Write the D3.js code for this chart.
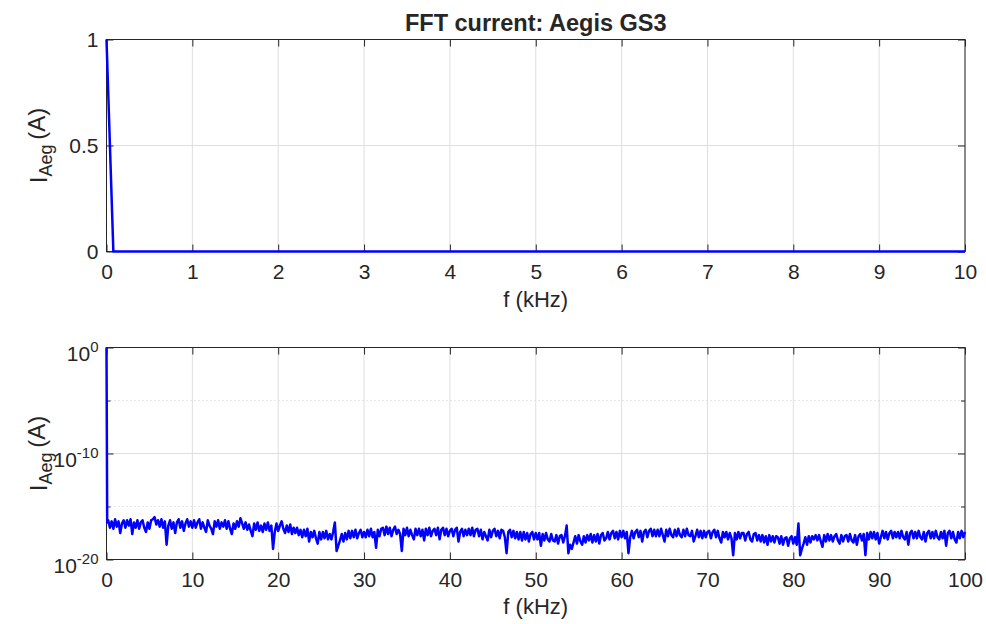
<!DOCTYPE html>
<html>
<head>
<meta charset="utf-8">
<script src="https://cdn.jsdelivr.net/npm/d3@7"></script>
<style>
  body { margin: 0; background: #fff; }
  text { font-family: "Liberation Sans", Arial, sans-serif; fill: #262626; }
</style>
</head>
<body>
<script>
// spectrum: DC bin, first bin, then bins every 0.2 kHz up to 100 kHz
var dcFreq = [0, 0.08];
var dcLogAmp = [0, -16.5];
var binStep = 0.2;
// log10 of |I| (A) for the bins 0.2 .. 100 kHz (one row = 2 kHz)
var noiseLogAmp = [
  -16.3,-17.0,-16.4,-17.1,-16.2,-16.9,-16.4,-17.5,-16.6,-16.3,
  -17.0,-16.3,-16.8,-16.2,-17.6,-16.5,-17.0,-16.3,-17.1,-16.5,
  -16.3,-17.0,-17.4,-16.5,-17.1,-16.3,-16.2,-16.0,-16.7,-16.3,
  -16.9,-16.2,-17.0,-16.4,-18.6,-16.8,-16.3,-17.1,-16.5,-17.5,
  -16.5,-16.2,-17.0,-16.4,-17.3,-16.6,-16.2,-16.9,-16.4,-17.0,
  -16.3,-17.0,-16.5,-16.2,-17.1,-16.5,-17.0,-17.4,-16.3,-16.8,
  -17.1,-17.6,-16.4,-16.9,-16.3,-17.1,-16.5,-16.9,-16.3,-17.1,
  -16.4,-17.1,-17.6,-16.6,-17.1,-16.4,-16.9,-16.1,-16.6,-17.1,
  -16.5,-17.2,-16.7,-17.3,-17.8,-16.6,-17.2,-16.5,-17.3,-16.8,
  -17.4,-16.6,-17.2,-16.5,-17.3,-16.8,-19.0,-17.4,-16.6,-17.3,
  -16.8,-16.4,-17.1,-17.5,-16.8,-17.4,-16.7,-17.6,-17.0,-17.5,
  -17.0,-17.7,-17.2,-17.9,-17.2,-17.8,-17.1,-18.3,-17.4,-17.9,
  -17.3,-18.0,-18.5,-17.4,-18.1,-17.4,-18.0,-17.3,-18.1,-17.6,
  -18.1,-17.4,-16.5,-19.2,-18.7,-18.2,-17.6,-18.3,-17.5,-18.1,
  -17.3,-18.0,-17.3,-17.9,-17.2,-18.0,-17.5,-17.2,-17.9,-17.4,
  -17.9,-17.2,-17.8,-17.1,-17.9,-17.4,-18.9,-17.2,-17.8,-17.1,
  -17.0,-17.7,-16.9,-17.6,-17.0,-17.8,-17.2,-16.9,-17.6,-17.2,
  -17.6,-19.2,-17.1,-17.7,-17.0,-17.8,-17.2,-17.7,-18.1,-17.1,
  -17.7,-17.1,-17.8,-17.2,-18.2,-17.1,-17.7,-17.0,-17.8,-17.3,
  -17.1,-17.7,-17.0,-18.1,-17.2,-17.0,-17.7,-17.1,-17.8,-17.3,
  -17.1,-17.8,-17.2,-17.0,-18.3,-17.4,-17.1,-17.8,-17.2,-17.7,
  -17.1,-17.7,-17.0,-17.8,-17.2,-17.1,-17.8,-17.2,-18.1,-17.4,
  -17.8,-18.2,-17.2,-17.9,-17.3,-17.1,-17.8,-17.3,-18.0,-17.2,
  -17.3,-17.9,-19.4,-17.4,-17.2,-17.9,-17.3,-18.0,-17.4,-18.1,
  -17.4,-18.2,-17.4,-18.1,-17.5,-18.3,-17.6,-17.4,-18.1,-17.5,
  -18.1,-17.5,-18.7,-17.6,-18.2,-17.5,-18.1,-18.3,-17.6,-18.2,
  -18.3,-17.7,-18.5,-17.8,-17.7,-18.4,-17.8,-16.8,-19.4,-18.6,
  -19.0,-18.4,-17.8,-18.5,-17.7,-18.3,-18.6,-17.8,-18.4,-17.7,
  -18.2,-17.6,-18.4,-17.7,-18.3,-17.6,-18.5,-17.7,-17.5,-18.2,
  -18.0,-17.4,-18.1,-17.5,-17.3,-18.0,-17.4,-18.1,-17.3,-17.9,
  -17.3,-18.0,-17.4,-19.4,-17.9,-17.3,-18.0,-17.4,-17.2,-17.9,
  -17.3,-18.3,-17.4,-17.2,-17.9,-17.3,-17.1,-17.8,-17.2,-17.8,
  -17.2,-17.8,-17.1,-17.7,-18.3,-17.2,-17.8,-17.1,-17.7,-17.9,
  -17.2,-17.8,-17.1,-17.7,-17.9,-17.2,-17.8,-17.1,-17.7,-17.8,
  -17.3,-18.3,-17.8,-17.2,-17.9,-17.3,-18.0,-17.3,-17.9,-17.4,
  -17.3,-18.0,-17.4,-17.2,-17.9,-17.3,-18.0,-18.4,-17.4,-17.9,
  -17.4,-18.1,-17.5,-18.0,-19.6,-17.5,-18.1,-17.4,-18.0,-17.5,
  -17.5,-18.2,-17.6,-17.4,-18.1,-18.3,-17.6,-17.5,-18.2,-17.7,
  -18.3,-17.7,-18.4,-17.8,-18.6,-17.7,-18.3,-17.8,-18.4,-17.8,
  -17.9,-18.5,-17.8,-18.6,-18.0,-17.9,-18.7,-18.0,-17.8,-18.5,
  -17.9,-18.6,-16.6,-19.6,-19.0,-18.5,-17.9,-18.6,-17.8,-18.4,
  -17.8,-18.1,-17.7,-18.2,-17.7,-18.3,-18.8,-17.7,-18.3,-17.6,
  -18.2,-17.7,-18.3,-17.8,-17.6,-18.2,-18.5,-17.7,-18.3,-17.8,
  -17.7,-18.3,-17.6,-18.2,-18.4,-17.7,-18.6,-17.8,-17.6,-18.2,
  -17.6,-19.6,-17.5,-18.1,-17.4,-18.0,-17.4,-18.1,-17.5,-18.5,
  -17.9,-17.3,-18.0,-17.4,-18.1,-17.5,-17.3,-18.0,-17.4,-17.9,
  -17.4,-18.0,-17.3,-17.9,-18.1,-17.4,-18.6,-17.5,-17.3,-18.0,
  -17.4,-18.0,-17.3,-17.9,-18.1,-17.4,-18.3,-17.5,-17.3,-18.0,
  -17.4,-18.0,-17.3,-17.9,-18.1,-17.4,-18.0,-17.3,-18.7,-17.5,
  -17.3,-18.0,-17.4,-18.1,-18.4,-17.4,-18.0,-17.3,-17.9,-17.4
];

var topXTicks = [0, 1, 2, 3, 4, 5, 6, 7, 8, 9, 10];
var topYTicks = [0, 0.5, 1];
var botXTicks = [0, 10, 20, 30, 40, 50, 60, 70, 80, 90, 100];
var botYTicks = [1e-20, 1e-10, 1e0];
var botYMinor = [1e-15, 1e-5];

var titleText = "FFT current: Aegis GS3";
var xLabelText = "f (kHz)";

// build the series
var spectrum = [];
dcFreq.forEach(function(f, i) { spectrum.push({ f: f, a: Math.pow(10, dcLogAmp[i]) }); });
noiseLogAmp.forEach(function(v, i) { spectrum.push({ f: +((i + 1) * binStep).toFixed(2), a: Math.pow(10, v) }); });

var width = 986, height = 624;
var left = 106.5, right = 965;
var ink = "#262626", gridCol = "#dedede", blue = "#0000ff";

var svg = d3.select("body").append("svg")
  .attr("width", width)
  .attr("height", height);

svg.append("text")
  .attr("x", (left + right) / 2)
  .attr("y", 31)
  .attr("text-anchor", "middle")
  .style("font-size", "23.5px")
  .style("font-weight", "bold")
  .text(titleText);

function yLabel(cy) {
  var t = svg.append("text")
    .attr("transform", "translate(47," + cy + ") rotate(-90)")
    .attr("text-anchor", "middle")
    .style("font-size", "24px");
  t.append("tspan").text("I");
  t.append("tspan").attr("dy", "0.3em").style("font-size", "18px").text("Aeg");
  t.append("tspan").attr("dy", "-0.3em").text("\u2009(A)");
}

function frame(g, x, y, top, bottom, xTicks, yTicks, yFormat, minor) {
  // grid
  g.append("g").selectAll("line").data(xTicks).join("line")
    .attr("x1", function(d) { return x(d); }).attr("x2", function(d) { return x(d); })
    .attr("y1", top).attr("y2", bottom)
    .attr("stroke", gridCol).attr("stroke-width", 1);
  g.append("g").selectAll("line").data(yTicks).join("line")
    .attr("x1", left).attr("x2", right)
    .attr("y1", function(d) { return y(d); }).attr("y2", function(d) { return y(d); })
    .attr("stroke", gridCol).attr("stroke-width", 1);
  if (minor) {
    g.append("g").selectAll("line").data(minor).join("line")
      .attr("x1", left).attr("x2", right)
      .attr("y1", function(d) { return y(d); }).attr("y2", function(d) { return y(d); })
      .attr("stroke", "#cfcfcf").attr("stroke-width", 1).attr("stroke-dasharray", "1,3");
  }

  // ticks, pointing inward on every side
  g.append("g").attr("transform", "translate(0," + bottom + ")")
    .call(d3.axisBottom(x).tickValues(xTicks).tickSizeInner(-7).tickSizeOuter(0).tickPadding(13));
  g.append("g").attr("transform", "translate(0," + top + ")")
    .call(d3.axisTop(x).tickValues(xTicks).tickSizeInner(-7).tickSizeOuter(0).tickFormat(""));
  var yl = g.append("g").attr("transform", "translate(" + left + ",0)")
    .call(d3.axisLeft(y).tickValues(yTicks).tickSizeInner(-7).tickSizeOuter(0).tickPadding(8).tickFormat(yFormat));
  g.append("g").attr("transform", "translate(" + right + ",0)")
    .call(d3.axisRight(y).tickValues(yTicks).tickSizeInner(-7).tickSizeOuter(0).tickFormat(""));
  if (minor) {
    g.append("g").attr("transform", "translate(" + left + ",0)")
      .call(d3.axisLeft(y).tickValues(minor).tickSizeInner(-4).tickSizeOuter(0).tickFormat(""));
    g.append("g").attr("transform", "translate(" + right + ",0)")
      .call(d3.axisRight(y).tickValues(minor).tickSizeInner(-4).tickSizeOuter(0).tickFormat(""));
  }
  g.selectAll(".domain").remove();
  g.selectAll(".tick line").attr("stroke", ink);
  g.selectAll(".tick text").style("font-size", "21px").attr("fill", ink).style("font-family", null);

  g.append("rect")
    .attr("x", left).attr("y", top)
    .attr("width", right - left).attr("height", bottom - top)
    .attr("fill", "none").attr("stroke", ink).attr("stroke-width", 1);
  return yl;
}

// ---- top panel: linear
var top1 = 39.5, bot1 = 251.5;
var x1 = d3.scaleLinear().domain([0, 10]).range([left, right]);
var y1 = d3.scaleLinear().domain([0, 1]).range([bot1, top1]);
var g1 = svg.append("g");
frame(g1, x1, y1, top1, bot1, topXTicks, topYTicks, function(d) { return d3.format("")(d); }, null);

g1.append("path")
  .datum(spectrum.filter(function(d) { return d.f <= 10; }))
  .attr("fill", "none")
  .attr("stroke", blue)
  .attr("stroke-width", 2.5)
  .attr("stroke-linejoin", "round")
  .attr("d", d3.line().x(function(d) { return x1(d.f); }).y(function(d) { return y1(d.a); }));

svg.append("text")
  .attr("x", (left + right) / 2).attr("y", 307)
  .attr("text-anchor", "middle")
  .style("font-size", "22px")
  .text(xLabelText);
yLabel(145.5);

// ---- bottom panel: log
var top2 = 347.5, bot2 = 559.5;
var x2 = d3.scaleLinear().domain([0, 100]).range([left, right]);
var y2 = d3.scaleLog().domain([1e-20, 1]).range([bot2, top2]);
var g2 = svg.append("g");
var yAx2 = frame(g2, x2, y2, top2, bot2, botXTicks, botYTicks, function() { return ""; }, botYMinor);

yAx2.selectAll(".tick text").attr("dy", "0.6em").each(function(d) {
  var t = d3.select(this);
  t.append("tspan").text("10");
  t.append("tspan").attr("dy", "-0.6em").style("font-size", "15px").text(Math.round(Math.log10(d)));
});

g2.append("path")
  .datum(spectrum)
  .attr("fill", "none")
  .attr("stroke", blue)
  .attr("stroke-width", 2.5)
  .attr("stroke-linejoin", "round")
  .attr("d", d3.line().x(function(d) { return x2(d.f); }).y(function(d) { return y2(d.a); }));

svg.append("text")
  .attr("x", (left + right) / 2).attr("y", 614)
  .attr("text-anchor", "middle")
  .style("font-size", "22px")
  .text(xLabelText);
yLabel(453.5);
</script>
</body>
</html>
